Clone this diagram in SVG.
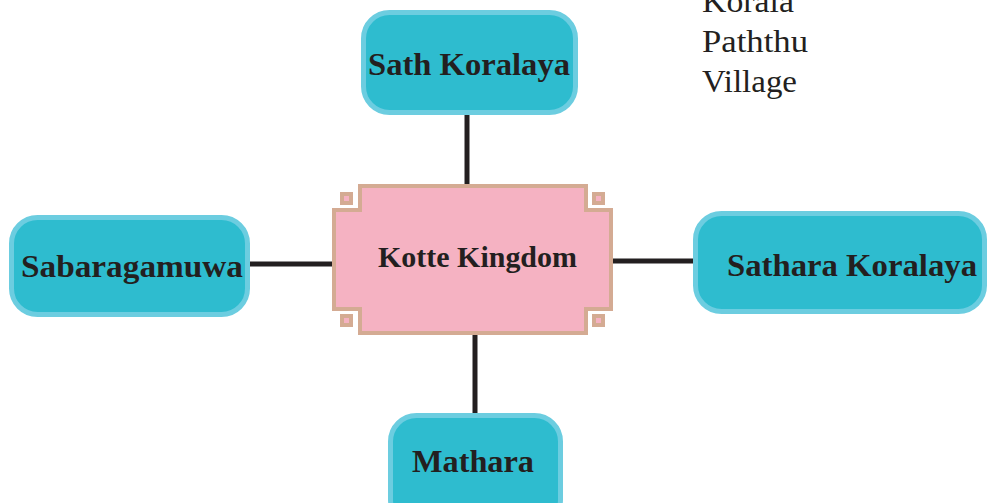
<svg xmlns="http://www.w3.org/2000/svg" width="988" height="503" viewBox="0 0 988 503">
<style>
.node rect{fill:#2ebccf;stroke:#6ccde0;stroke-width:5}
.lbl{font-family:"Liberation Serif","DejaVu Serif",serif;font-weight:bold;fill:#231f20;text-anchor:middle}
.note{font-family:"Liberation Serif","DejaVu Serif",serif;fill:#231f20;font-size:31px}
.conn line{stroke:#231f20;stroke-width:5}
.frame{fill:#f5b2c2;stroke:#d4ab93;stroke-width:4}
.knot{fill:#f5b2c2;stroke:#d4ab93;stroke-width:4}
</style>
<rect width="988" height="503" fill="#ffffff"/>
<g class="conn">
<line x1="467" y1="114" x2="467" y2="186"/>
<line x1="250" y1="264" x2="334" y2="264"/>
<line x1="611" y1="261" x2="695" y2="261"/>
<line x1="475" y1="332" x2="475" y2="414"/>
</g>
<g id="kotte">
<path class="frame" d="M360,186 H586 V210 H611 V309 H586 V333 H360 V309 H334 V210 H360 Z"/>
<rect class="knot" x="342" y="194" width="9" height="9"/>
<rect class="knot" x="594" y="194" width="9" height="9"/>
<rect class="knot" x="342" y="316" width="9" height="9"/>
<rect class="knot" x="594" y="316" width="9" height="9"/>
<text class="lbl" x="477.5" y="267" font-size="30" textLength="199" lengthAdjust="spacingAndGlyphs">Kotte Kingdom</text>
</g>
<g id="sath" class="node">
<rect x="363.5" y="12.5" width="212" height="100" rx="26"/>
<text class="lbl" x="469" y="75" font-size="32" textLength="202" lengthAdjust="spacingAndGlyphs">Sath Koralaya</text>
</g>
<g id="sabaragamuwa" class="node">
<rect x="11.5" y="217.5" width="236" height="97" rx="26"/>
<text class="lbl" x="132" y="277" font-size="32" textLength="222" lengthAdjust="spacingAndGlyphs">Sabaragamuwa</text>
</g>
<g id="sathara" class="node">
<rect x="695.5" y="213.5" width="289" height="98" rx="26"/>
<text class="lbl" x="852" y="276" font-size="32" textLength="250" lengthAdjust="spacingAndGlyphs">Sathara Koralaya</text>
</g>
<g id="mathara" class="node">
<rect x="390.5" y="415.5" width="170" height="110" rx="26"/>
<text class="lbl" x="473" y="472" font-size="32" textLength="122" lengthAdjust="spacingAndGlyphs">Mathara</text>
</g>
<g id="note">
<text class="note" x="702" y="12" textLength="92" lengthAdjust="spacingAndGlyphs">Korala</text>
<text class="note" x="702" y="52" textLength="106" lengthAdjust="spacingAndGlyphs">Paththu</text>
<text class="note" x="702" y="92" textLength="95" lengthAdjust="spacingAndGlyphs">Village</text>
</g>
</svg>
